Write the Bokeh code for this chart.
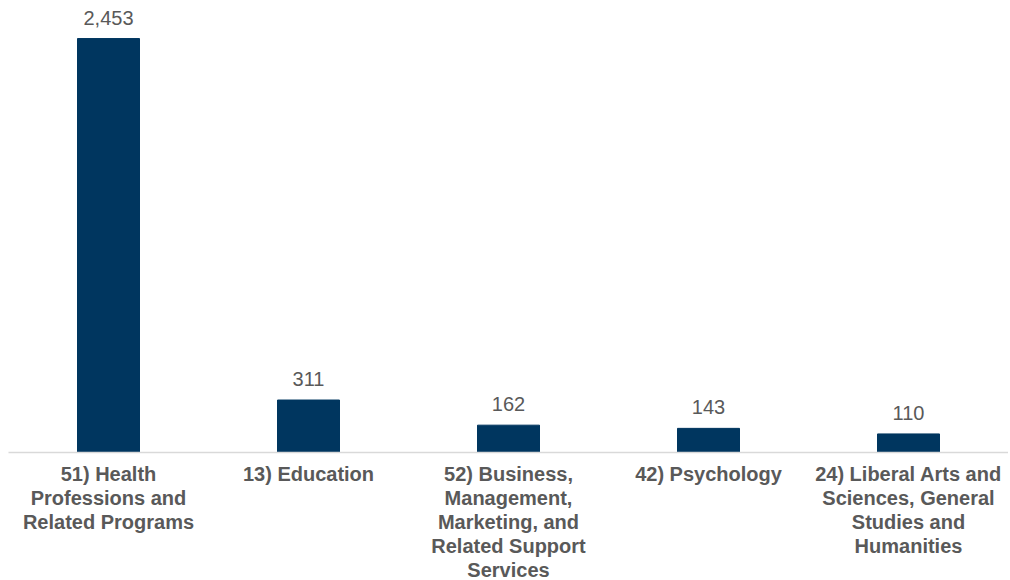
from bokeh.plotting import figure
from bokeh.models import ColumnDataSource, Range1d, FactorRange
from bokeh.core.properties import value
from bokeh.embed import file_html
from bokeh.resources import INLINE

categories = ["51) Health\nProfessions and\nRelated Programs",
              "13) Education",
              "52) Business,\nManagement,\nMarketing, and\nRelated Support\nServices",
              "42) Psychology",
              "24) Liberal Arts and\nSciences, General\nStudies and\nHumanities"]
counts = [2453, 311, 162, 143, 110]
count_labels = ["{:,}".format(v) for v in counts]

src = ColumnDataSource(dict(cat=categories, val=counts, lab=count_labels))

p = figure(x_range=FactorRange(*categories, range_padding=0),
           y_range=Range1d(0, 2631),
           frame_width=1000, frame_height=444,
           min_border_left=8, min_border_right=0, min_border_top=8, min_border_bottom=0,
           output_backend="svg", toolbar_location=None)

p.vbar(x="cat", top="val", width=0.31, source=src, color="#00365F")
p.text(x="cat", y="val", text="lab", source=src, text_align="center",
       text_baseline="alphabetic", y_offset=-21, text_font=value("Liberation Sans"),
       text_font_size="20px", text_color="#595959")

p.yaxis.visible = False
p.xgrid.visible = False
p.ygrid.visible = False
p.outline_line_color = None
p.background_fill_color = "white"
p.border_fill_color = "white"

ax = p.xaxis[0]
ax.axis_line_color = "#D9D9D9"
ax.axis_line_width = 1.5
ax.major_tick_line_color = None
ax.minor_tick_line_color = None
ax.major_label_text_font = "Liberation Sans"
ax.major_label_text_font_style = "bold"
ax.major_label_text_font_size = "20px"
ax.major_label_text_color = "#595959"
ax.major_label_text_line_height = 1.1
ax.major_label_standoff = 4
ax.major_label_orientation = "horizontal"

open("out.html", "w").write(file_html(p, INLINE))
